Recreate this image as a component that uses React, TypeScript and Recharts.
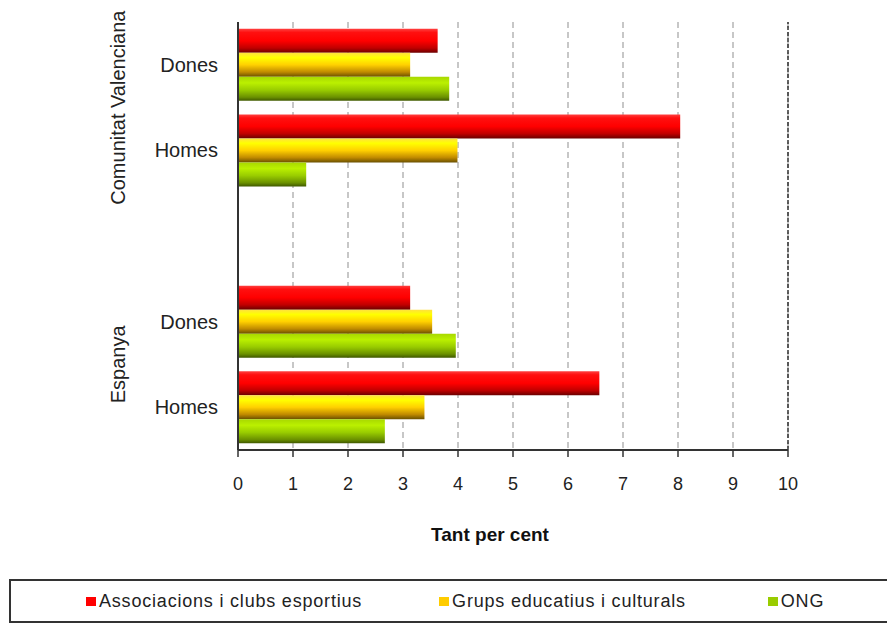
import { BarChart, Bar, XAxis, YAxis, CartesianGrid, ReferenceLine } from "recharts"

// category rows (blank row separates the two regions)
const categories = ["Dones", "Homes", "", "Dones", "Homes"]
const groups = ["Comunitat Valenciana", "Comunitat Valenciana", "", "Espanya", "Espanya"]

// tant per cent
const esportius = [3.63, 8.04, null, 3.13, 6.57]
const culturals = [3.13, 3.99, null, 3.53, 3.39]
const ong = [3.84, 1.24, null, 3.96, 2.67]

const xTicks = [0, 1, 2, 3, 4, 5, 6, 7, 8, 9, 10]

const seriesNames = ["Associacions i clubs esportius", "Grups educatius i culturals", "ONG"]
const legendColors = ["#ff0000", "#ffcc00", "#99cc00"]

const data = categories.map((c, i) => ({
  id: i,
  cat: c,
  group: groups[i],
  esportius: esportius[i],
  culturals: culturals[i],
  ong: ong[i],
}))

const FONT = "'Liberation Sans', Arial, sans-serif"

document.body.style.margin = "0"

// y tick + the rotated group label (drawn on the first row of each group)
function CatTick(props: any) {
  const { x, y, payload } = props
  const i = payload.index
  const isFirst = groups[i] !== "" && (i === 0 || groups[i - 1] !== groups[i])
  const half = payload.offset || 0
  return (
    <g>
      <text x={x} y={y} textAnchor="end" dominantBaseline="central" fontSize={20} fill="#222" fontFamily={FONT}>
        {categories[i]}
      </text>
      {isFirst && (
        <text
          x={118}
          y={y + half}
          transform={`rotate(-90, 118, ${y + half})`}
          textAnchor="middle"
          dominantBaseline="central"
          fontSize={20}
          fill="#222"
          fontFamily={FONT}
        >
          {groups[i]}
        </text>
      )}
    </g>
  )
}

function LegendBox() {
  return (
    <div
      style={{
        position: "absolute",
        left: 9,
        top: 579,
        width: 900,
        height: 40,
        border: "2px solid #333",
        display: "flex",
        alignItems: "center",
        paddingLeft: 75,
        boxSizing: "content-box",
        fontFamily: FONT,
        fontSize: 18,
        letterSpacing: 0.8,
        color: "#222",
      }}
    >
      {seriesNames.map((n, i) => (
        <div key={n} style={{ display: "flex", alignItems: "center", marginRight: i === 0 ? 77 : 82 }}>
          <span style={{ width: 10, height: 9, background: legendColors[i], marginRight: 3 }} />
          <span>{n}</span>
        </div>
      ))}
    </div>
  )
}

export default function App() {
  return (
    <div style={{ position: "relative", width: 887, height: 625, overflow: "hidden", background: "#fff" }}>
      <BarChart
        width={887}
        height={570}
        data={data}
        layout="vertical"
        margin={{ top: 22, right: 99, left: 0, bottom: 0 }}
        barCategoryGap="8%"
        barGap={0}
      >
        <defs>
          <linearGradient id="gRed" x1="0" y1="0" x2="0" y2="1">
            <stop offset="0%" stopColor="#ff4040" />
            <stop offset="15%" stopColor="#ff1010" />
            <stop offset="50%" stopColor="#ff0000" />
            <stop offset="80%" stopColor="#c00000" />
            <stop offset="100%" stopColor="#6a0000" />
          </linearGradient>
          <linearGradient id="gYellow" x1="0" y1="0" x2="0" y2="1">
            <stop offset="0%" stopColor="#ffe040" />
            <stop offset="20%" stopColor="#ffff00" />
            <stop offset="50%" stopColor="#ffd000" />
            <stop offset="80%" stopColor="#c08a00" />
            <stop offset="100%" stopColor="#6a5000" />
          </linearGradient>
          <linearGradient id="gGreen" x1="0" y1="0" x2="0" y2="1">
            <stop offset="0%" stopColor="#a8d800" />
            <stop offset="25%" stopColor="#bbf000" />
            <stop offset="55%" stopColor="#99cc00" />
            <stop offset="85%" stopColor="#6a9000" />
            <stop offset="100%" stopColor="#3f5800" />
          </linearGradient>
        </defs>
        <CartesianGrid horizontal={false} stroke="#8f8f8f" strokeDasharray="6 4" />
        <XAxis
          type="number"
          domain={[0, 10]}
          ticks={xTicks}
          height={120}
          axisLine={{ stroke: "#333", strokeWidth: 2 }}
          tickLine={{ stroke: "#333", strokeWidth: 1.5 }}
          tickSize={7}
          tickMargin={20}
          tick={{ fontSize: 18, fill: "#222", fontFamily: FONT }}
          label={{
            value: "Tant per cent",
            position: "insideBottom",
            offset: 29,
            dx: -23,
            fontSize: 19,
            fontWeight: "bold",
            fill: "#111",
            fontFamily: FONT,
          }}
        />
        {/* top border of the plot */}
        <XAxis
          xAxisId="top"
          orientation="top"
          type="number"
          domain={[0, 10]}
          height={0}
          tick={false}
          tickLine={false}
          axisLine={{ stroke: "#333", strokeWidth: 2 }}
        />
        <YAxis
          type="category"
          dataKey="id"
          width={238}
          axisLine={{ stroke: "#333", strokeWidth: 2 }}
          tickLine={false}
          tickSize={0}
          tickMargin={20}
          interval={0}
          tick={<CatTick />}
        />
        <ReferenceLine x={10} stroke="#333" strokeWidth={1.5} strokeDasharray="4 2" />
        <Bar dataKey="esportius" name={seriesNames[0]} fill="url(#gRed)" isAnimationActive={false} />
        <Bar dataKey="culturals" name={seriesNames[1]} fill="url(#gYellow)" isAnimationActive={false} />
        <Bar dataKey="ong" name={seriesNames[2]} fill="url(#gGreen)" isAnimationActive={false} />
      </BarChart>
      <LegendBox />
    </div>
  )
}
